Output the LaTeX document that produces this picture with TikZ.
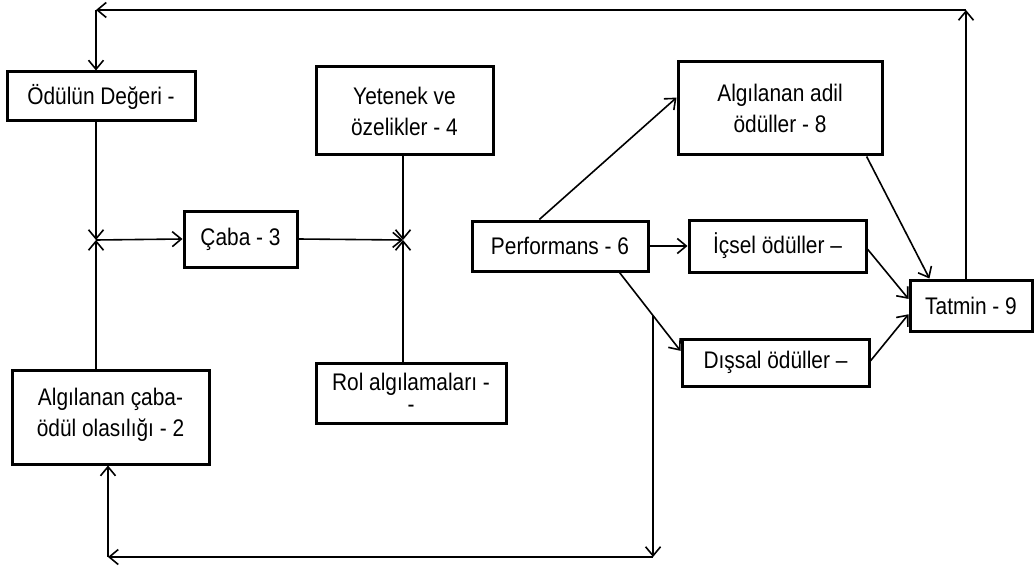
\documentclass[tikz,border=0pt]{standalone}
\usepackage{fontspec}
\setmainfont{Liberation Sans}[FakeStretch=0.87]
\usetikzlibrary{arrows.meta}
\begin{document}
\begin{tikzpicture}[x=1pt,y=-1pt,
  box/.style={draw, line width=3pt, rectangle, inner sep=0pt, outer sep=1.5pt,
    align=center, font=\fontsize{24}{31}\selectfont},
  arr/.style={line width=1.6pt, -{Straight Barb[length=9pt,width=15pt]}}]
\useasboundingbox (0,0) rectangle (1035,572);

% boxes
\node[box, minimum width=188pt, minimum height=49pt] (odul) at (101,96.5) {Ödülün Değeri -};
\node[box, minimum width=113pt, minimum height=56pt] (caba) at (240.5,239) {Çaba - 3};
\node[box, minimum width=177pt, minimum height=88pt] (yetenek) at (404.5,111) {Yetenek ve\\özelikler - 4};
\node[box, minimum width=190pt, minimum height=60pt, font=\fontsize{24}{22}\selectfont] (rol) at (411,393) {Rol algılamaları -\\-};
\node[box, minimum width=197pt, minimum height=94pt] (algcaba) at (110.5,417) {Algılanan çaba-\\ödül olasılığı - 2\\[-22pt]};
\node[box, minimum width=176pt, minimum height=50pt] (perf) at (560,246) {Performans - 6};
\node[box, minimum width=204pt, minimum height=93pt] (adil) at (780,108.5) {Algılanan adil\\ödüller - 8};
\node[box, minimum width=177pt, minimum height=52pt] (icsel) at (777.5,246) {İçsel ödüller –};
\node[box, minimum width=187pt, minimum height=47pt] (dissal) at (775.5,362.5) {Dışsal ödüller –};
\node[box, minimum width=122pt, minimum height=51pt] (tatmin) at (971,305.5) {Tatmin - 9};

% junctions and corners
\coordinate (tr) at (966,10);
\coordinate (tl) at (96,10);
\coordinate (j1) at (96,240);
\coordinate (j2) at (403,240);
\coordinate (bl) at (108,557);

% feedback loop along the top
\draw[arr] (tatmin.north -| tr) -- (tr);
\draw[arr] (tr) -- (tl);
\draw[arr] (tl) -- (odul.north -| tl);

% inputs to effort
\draw[arr] (odul.south -| j1) -- (j1);
\draw[arr] (algcaba.north -| j1) -- (j1);
\draw[arr] (j1) -- (caba.west);

% inputs to performance
\draw[arr] (caba.east) -- (j2);
\draw[arr] (yetenek.south -| j2) -- (j2);
\draw[arr] (rol.north -| j2) -- (j2);

% performance to rewards
\draw[arr] (perf.128.7) -- (adil.174);
\draw[arr] (perf.east) -- (icsel.west);
\draw[arr] (perf.336.7) -- (dissal.173.8);
\path (perf.336.7) -- (dissal.173.8) coordinate[pos=0.55] (bs);

% feedback loop along the bottom
\draw[arr] (bs) -- (bs |- bl);
\draw[arr] (bs |- bl) -- (bl);
\draw[arr] (bl) -- (algcaba.south -| bl);

% rewards to satisfaction
\draw[arr] (adil.331.3) -- (tatmin.147);
\draw[arr] (icsel.-2.6) -- (tatmin.174.9);
\draw[arr] (dissal.1.5) -- (tatmin.188.8);
\end{tikzpicture}
\end{document}
